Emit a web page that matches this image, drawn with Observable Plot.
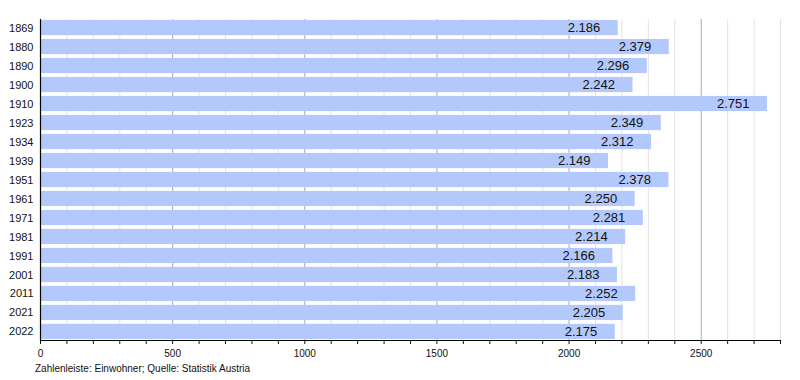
<!DOCTYPE html>
<html>
<head>
<meta charset="utf-8">
<script src="https://cdn.jsdelivr.net/npm/d3@7"></script>
<script src="https://cdn.jsdelivr.net/npm/@observablehq/plot@0.6"></script>
<style>
  body { margin: 0; background: #fff; font-family: "Liberation Sans", Arial, sans-serif; }
  #chart svg { display: block; }
  #caption { font-size: 10px; color: #111; margin-left: 35px; margin-top: 5px; }
</style>
</head>
<body>
<div id="chart"></div>
<div id="caption">Zahlenleiste: Einwohner; Quelle: Statistik Austria</div>
<script>
const years = ["1869","1880","1890","1900","1910","1923","1934","1939","1951","1961","1971","1981","1991","2001","2011","2021","2022"];
const population = [2186, 2379, 2296, 2242, 2751, 2349, 2312, 2149, 2378, 2250, 2281, 2214, 2166, 2183, 2252, 2205, 2175];
const xTicks = [0, 500, 1000, 1500, 2000, 2500];
const minorTicks = d3.range(0, 2801, 100);

const data = years.map((y, i) => ({year: y, value: population[i]}));
const fmt = v => d3.format(",")(v).replace(/,/g, ".");

const chart = Plot.plot({
  width: 800,
  height: 358,
  marginLeft: 40,
  marginRight: 20,
  marginTop: 19,
  marginBottom: 18,
  style: {fontFamily: "'Liberation Sans', Arial, sans-serif", color: "#111", background: "#fff"},
  x: {domain: [0, 2800]},
  y: {domain: years, paddingInner: 0.2, paddingOuter: 0.05, round: false},
  marks: [
    Plot.ruleX(minorTicks.filter(v => v % 500 !== 0), {stroke: "#e2e2e2", strokeWidth: 1}),
    Plot.ruleX(xTicks.filter(v => v > 0), {stroke: "#a9a9a9", strokeWidth: 1}),
    Plot.barX(data, {x: "value", y: "year", fill: "#b3c8fb"}),
    Plot.text(data, {x: "value", y: "year", text: d => fmt(d.value), textAnchor: "end", dx: -18, fontSize: 13, fill: "#111"}),
    Plot.axisY({tickSize: 0, tickPadding: 7, fontSize: 11, label: null}),
    Plot.axisX(minorTicks, {tickSize: 4, tickPadding: 5, fontSize: 10, label: null, tickFormat: d => (xTicks.includes(d) ? String(d) : "")}),
    Plot.ruleX([0], {stroke: "#000", strokeWidth: 1.2}),
    Plot.frame({anchor: "bottom", stroke: "#000", strokeWidth: 1.2})
  ]
});
document.getElementById("chart").append(chart);
</script>
</body>
</html>
